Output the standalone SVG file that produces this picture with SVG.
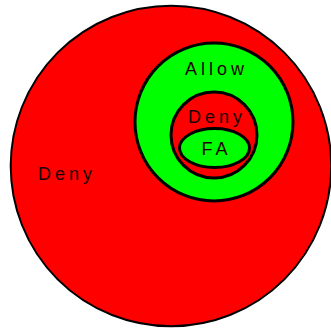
<svg xmlns="http://www.w3.org/2000/svg" width="331" height="330" viewBox="0 0 331 330">
<style>
.red{fill:#ff0000;stroke:#000}
.green{fill:#00ff00;stroke:#000}
.t{font-family:"Liberation Sans",Arial,sans-serif;font-size:18px;letter-spacing:4px;fill:#1a0000}
</style>
<rect width="331" height="330" fill="#fff"/>
<g id="outer-deny">
<circle class="red" cx="171" cy="166" r="160.3" stroke-width="2"/>
<text class="t" x="38" y="180">Deny</text>
</g>
<g id="allow">
<circle class="green" cx="214" cy="122" r="79" stroke-width="3"/>
<text class="t" x="185" y="75">Allow</text>
</g>
<g id="inner-deny">
<circle class="red" cx="214" cy="135" r="43" stroke-width="3"/>
<text class="t" x="188" y="122.5">Deny</text>
</g>
<g id="fa">
<ellipse class="green" cx="214.5" cy="148" rx="35" ry="19.5" stroke-width="3"/>
<text class="t" x="201.5" y="155">FA</text>
</g>
<g id="connectors"/>
</svg>
